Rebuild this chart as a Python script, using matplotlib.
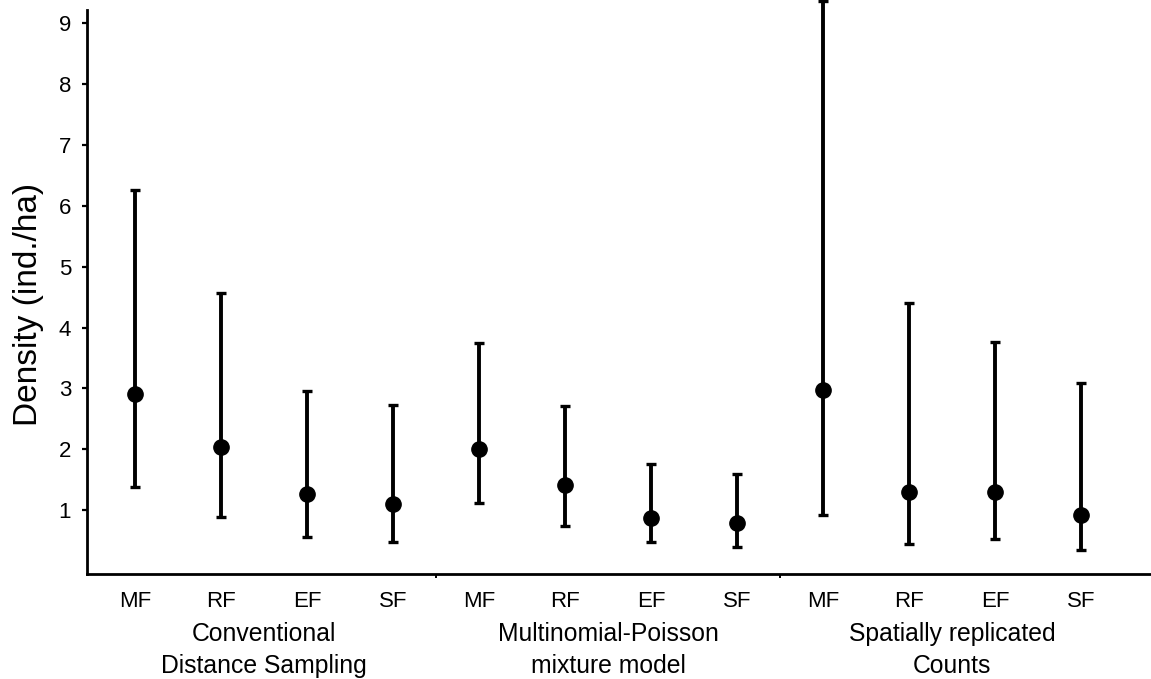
import matplotlib
matplotlib.use("Agg")
import matplotlib.pyplot as plt
import matplotlib.transforms as mtransforms
import numpy as np

plt.rcParams['font.family'] = ['Liberation Sans', 'DejaVu Sans']

# ---- data ----
categories = ['MF', 'RF', 'EF', 'SF']
groups = ['Conventional\nDistance Sampling',
          'Multinomial-Poisson\nmixture model',
          'Spatially replicated\nCounts']

cds_est = [2.90, 2.03, 1.27, 1.10]
cds_lo = [1.38, 0.89, 0.56, 0.47]
cds_hi = [6.26, 4.57, 2.96, 2.72]

mpm_est = [2.01, 1.41, 0.87, 0.79]
mpm_lo = [1.12, 0.73, 0.47, 0.39]
mpm_hi = [3.74, 2.71, 1.75, 1.60]

src_est = [2.98, 1.30, 1.30, 0.92]
src_lo = [0.92, 0.44, 0.52, 0.34]
src_hi = [9.37, 4.41, 3.76, 3.09]

y_ticks = [1, 2, 3, 4, 5, 6, 7, 8, 9]
y_label = 'Density (ind./ha)'

# ---- figure ----
W, H = 1151, 679
fig = plt.figure(figsize=(W / 100, H / 100), dpi=100)
ax = fig.add_axes([87.3 / W, 1 - 574 / H, 1 - 87.3 / W, (574 - 10) / H])

est = np.array(cds_est + mpm_est + src_est)
lo = np.array(cds_lo + mpm_lo + src_lo)
hi = np.array(cds_hi + mpm_hi + src_hi)
x = np.arange(len(est))

cont = ax.errorbar(x, est, yerr=[est - lo, hi - est], fmt='o', color='black',
                   markersize=11, elinewidth=2.8, capsize=3.8, capthick=2.4,
                   ecolor='black')
for art in cont.get_children():
    art.set_clip_on(False)

ax.set_xlim(-0.555, 11.81)
ax.set_ylim(-0.052, 9.22)

for s in ['top', 'right']:
    ax.spines[s].set_visible(False)
for s in ['left', 'bottom']:
    ax.spines[s].set_linewidth(2.0)

ax.set_yticks(y_ticks)
ax.set_yticklabels([str(t) for t in y_ticks])
ax.tick_params(axis='y', direction='out', length=3.6, width=1.6,
               labelsize=16, pad=8)

n = len(categories)
ax.set_xticks([n - 0.5, 2 * n - 0.5])
ax.set_xticklabels([])
ax.tick_params(axis='x', which='major', direction='out', length=3, width=1.4)
ax.set_xticks(x, minor=True)
ax.set_xticklabels(categories * len(groups), minor=True)
ax.tick_params(axis='x', which='minor', length=0, labelsize=16, pad=12.5)

trans = mtransforms.blended_transform_factory(ax.transData, fig.transFigure)
for gi, g in enumerate(groups):
    cx = gi * n + (n - 1) / 2
    lines = g.split('\n')
    for li, line in enumerate(lines):
        ypix = 641 + li * 32
        ax.text(cx, 1 - ypix / H, line, transform=trans, ha='center',
                va='baseline', fontsize=17.8)

fig.text(28 / W, 1 - 304 / H, y_label, rotation=90, ha='center',
         va='center', fontsize=24)

fig.savefig('out.png', dpi=100)
